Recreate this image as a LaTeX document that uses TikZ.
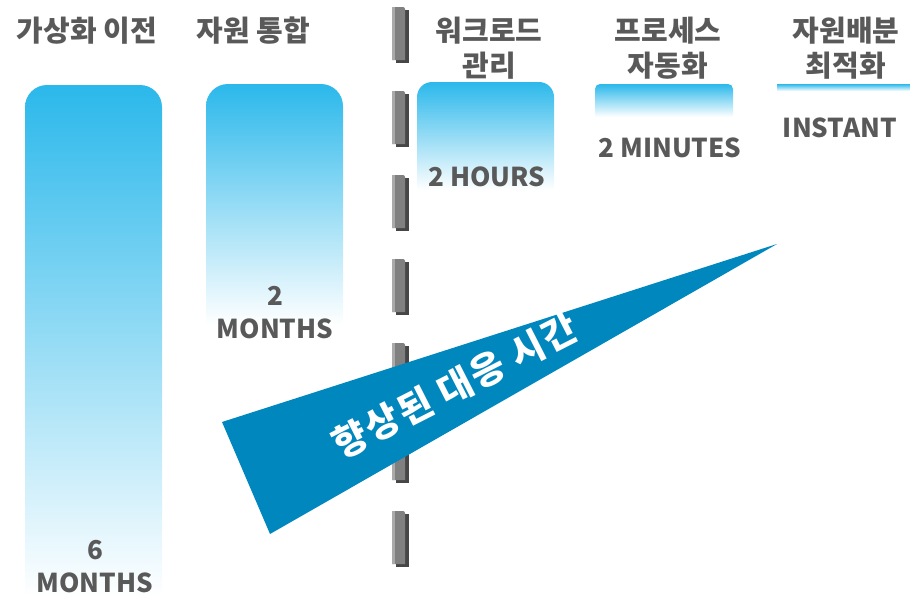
\documentclass[tikz,border=0pt]{standalone}
\usepackage{fontspec}
\setmainfont{Noto Sans CJK KR}
\definecolor{barblue}{RGB}{43,184,235}
\definecolor{txtgray}{RGB}{89,89,89}
\definecolor{wedgeblue}{RGB}{0,135,190}
\definecolor{seglight}{RGB}{170,170,170}
\definecolor{segmid}{RGB}{128,128,128}
\definecolor{segdark}{RGB}{70,70,70}
\begin{document}
\begin{tikzpicture}[x=1pt,y=-1pt,
  hdr/.style={font=\fontsize{29}{35}\selectfont\bfseries, text=txtgray, align=center, inner sep=0pt},
  val/.style={font=\fontsize{26}{33}\selectfont\bfseries, text=txtgray, align=center, inner sep=0pt},
  wtxt/.style={font=\fontsize{37}{40}\selectfont\bfseries\addfontfeatures{LetterSpace=6}, text=white, inner sep=0pt},
  barfill/.style={top color=barblue, bottom color=white}]
\useasboundingbox (0,0) rectangle (910,597);
% bars
\shade[barfill] (25,597) [rounded corners=22pt] -- (25,85) -- (162,85) [sharp corners] -- (162,597) -- cycle;
\shade[barfill] (206,325) [rounded corners=22pt] -- (206,84) -- (343,84) [sharp corners] -- (343,325) -- cycle;
\shade[barfill] (417,190) [rounded corners=15pt] -- (417,82) -- (554,82) [sharp corners] -- (554,190) -- cycle;
\shade[barfill] (595,117) [rounded corners=5pt] -- (595,84) -- (733,84) [sharp corners] -- (733,117) -- cycle;
\shade[barfill] (777,84) rectangle (910,91);
% divider
\foreach \y in {7,91,175,259,343,427,511}{
  \fill[segdark] (396,\y+3) rectangle (409,\y+56);
  \fill[segmid] (392,\y) [rounded corners=2pt] -- (405,\y) [sharp corners] -- (405,\y+53) -- (392,\y+53) -- cycle;
  \fill[seglight] (392,\y) rectangle (395,\y+53);
}
% headers
\node[hdr] (h1) at (87,31) {가상화 이전};
\node[hdr] (h2) at (253,31) {자원 통합};
\node[hdr] (h3) at (489,48) {워크로드\\관리};
\node[hdr] (h4) at (668,48) {프로세스\\자동화};
\node[hdr] (h5) at (846,48) {자원배분\\최적화};
% values
\node[val] (v1) at (95,567) {6\\MONTHS};
\node[val] (v2) at (275,313) {2\\MONTHS};
\node[val] (v3) at (487,177) {2 HOURS};
\node[val] (v4) at (670,148) {2 MINUTES};
\node[val] (v5) at (840,128) {INSTANT};
% wedge
\fill[wedgeblue] (222,422) -- (270,534) -- (777,244) -- cycle;
\node[wtxt, rotate=27] (w) at (455,386) {향상된 대응 시간};
\end{tikzpicture}
\end{document}
